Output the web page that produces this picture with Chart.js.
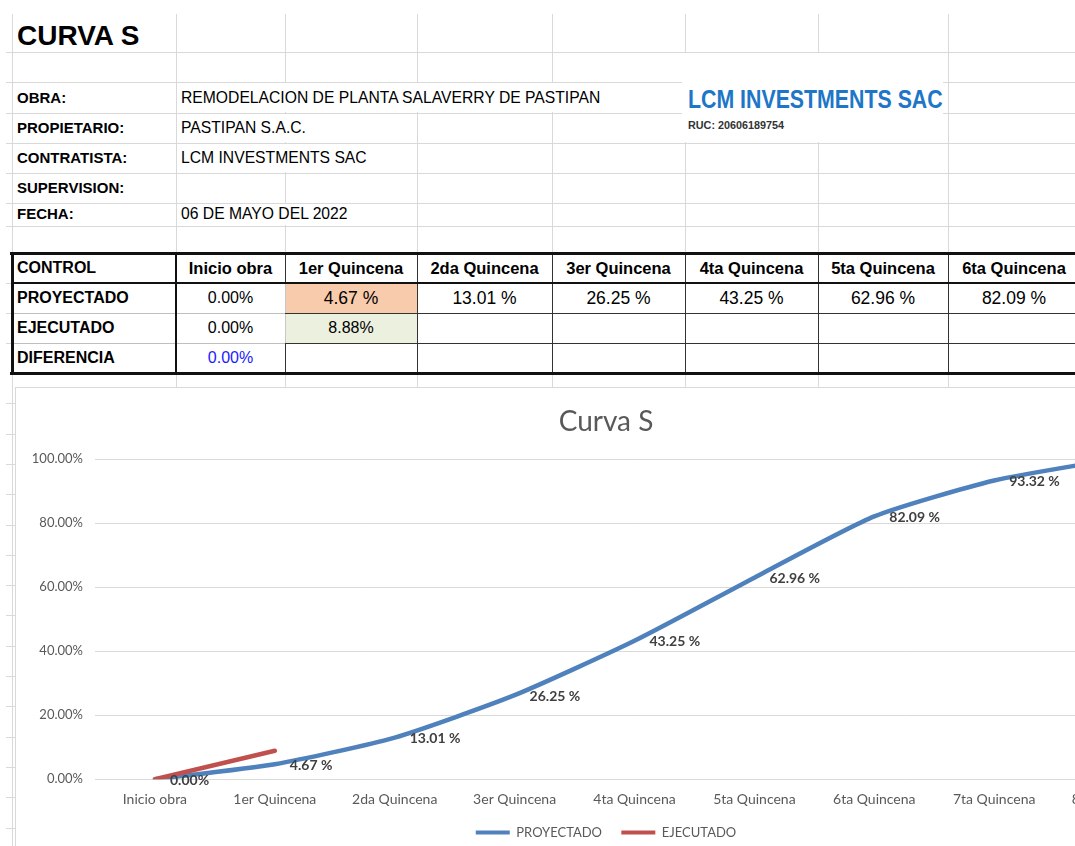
<!DOCTYPE html>
<html>
<head>
<meta charset="utf-8">
<title>Curva S</title>
<script src="https://cdn.jsdelivr.net/npm/chart.js@4.4.1/dist/chart.umd.min.js"></script>
<style>
html, body { margin: 0; padding: 0; width: 1075px; height: 846px; overflow: hidden; background: #fff; }
#sheet { position: absolute; left: 0; top: 0; width: 1075px; height: 846px; font-family: "Liberation Sans", Arial, sans-serif; color: #000; }
#sheet div { position: absolute; white-space: nowrap; }
#chartBox { position: absolute; left: 15px; top: 387px; width: 1180px; height: 470px; border: 1px solid #d9d9d9; background: #fff; }
#chartBox canvas { display: block; }
</style>
</head>
<body>
<div id="sheet"></div>
<div id="chartBox"><canvas id="curvaChart" width="1180" height="470"></canvas></div>
<script>
// --- datos de la curva ---
const categories = ['Inicio obra', '1er Quincena', '2da Quincena', '3er Quincena', '4ta Quincena',
                    '5ta Quincena', '6ta Quincena', '7ta Quincena', '8va Quincena'];
const proyectado = [0, 4.67, 13.01, 26.25, 43.25, 62.96, 82.09, 93.32, 100];
const ejecutado = [0, 8.88, null, null, null, null, null, null, null];
const diferencia = [0];
const yMin = 0, yMax = 100, yStep = 20;

// Text for the data sheet
const infoLabels = ['OBRA:', 'PROPIETARIO:', 'CONTRATISTA:', 'SUPERVISION:', 'FECHA:'];
const infoValues = ['REMODELACION DE PLANTA SALAVERRY DE PASTIPAN', 'PASTIPAN S.A.C.', 'LCM INVESTMENTS SAC', '', '06 DE MAYO DEL 2022'];

const fmtProy = (v, i) => i === 0 ? v.toFixed(2) + '%' : v.toFixed(2) + ' %';
const fmtPct = v => v.toFixed(2) + '%';

// --------------------------------------------------------------------------------
// SHEET (gridlines, header info, control table)
// --------------------------------------------------------------------------------
const sheet = document.getElementById('sheet');
const GRID = '#d9d9d9';

function box(x, y, w, h, bg) {
    const d = document.createElement('div');
    d.style.cssText = `left:${x}px;top:${y}px;width:${w}px;height:${h}px;background:${bg}`;
    sheet.appendChild(d);
}
function hl(x1, x2, y, c, t = 1) { box(x1, y - Math.floor(t / 2), x2 - x1, t, c); }
function vl(x, y1, y2, c, t = 1) { box(x - Math.floor(t / 2), y1, t, y2 - y1, c); }
function txt(s, x, y, w, align, css) {
    const d = document.createElement('div');
    d.textContent = s;
    d.style.cssText = `left:${x}px;top:${y - 15}px;height:30px;line-height:30px;width:${w}px;text-align:${align};${css}`;
    sheet.appendChild(d);
}

const cols = [12, 176, 285, 417, 552, 685, 818, 948, 1080];
const rowsTop = [52, 82, 113, 143, 173, 203, 226];

// plain gridlines
rowsTop.forEach(y => hl(6, 1075, y, GRID));
cols.forEach(x => vl(x, 14, 253, GRID));
cols.forEach(x => vl(x, 373, 388, GRID));
vl(12, 373, 846, GRID);
for (let k = 1; k <= 15; k++) hl(6, 15, Math.round(373 + 30.3 * k), GRID);
[283, 313, 343].forEach(y => hl(6, 12, y, GRID));

// overflow text and logo hide gridlines
box(177, 83, 428, 29, '#fff');
box(177, 114, 133, 28, '#fff');
box(177, 144, 193, 28, '#fff');
box(177, 204, 183, 21, '#fff');
box(682, 53, 261, 89, '#fff');

txt('CURVA S', 17, 36, 150, 'left', 'font-weight:bold;font-size:28px;');
infoLabels.forEach((s, i) => {
    const yc = [98, 128, 158, 188, 214][i];
    txt(s, 17, yc, 150, 'left', 'font-weight:bold;font-size:15px;');
    if (infoValues[i]) txt(infoValues[i], 181, yc, 200, 'left', 'font-size:15.7px;');
});

// logo
const logo = document.createElement('div');
logo.textContent = 'LCM INVESTMENTS SAC';
logo.style.cssText = 'left:688px;top:84px;line-height:30px;font-weight:bold;font-size:26px;color:#1D76C8;transform:scaleX(0.82);transform-origin:left center;';
sheet.appendChild(logo);
txt('RUC: 20606189754', 688, 125, 120, 'left', 'font-weight:bold;font-size:10.8px;color:#333;');

// control table
box(285, 283, 132, 30, '#F8CBAD');
box(285, 313, 132, 30, '#EBF1DE');
[417, 552, 685, 818, 948].forEach(x => vl(x, 253, 373, '#333'));
vl(285, 253, 283, '#333');
vl(285, 283, 343, '#c8c8c8');
vl(285, 343, 373, '#333');
[313, 343].forEach(y => { hl(12, 285, y, '#bfbfbf'); hl(285, 1075, y, '#333'); });
hl(10, 1075, 253, '#111', 3);
hl(12, 1075, 283, '#111', 2);
hl(10, 1075, 373, '#111', 3);
vl(12, 252, 375, '#111', 3);
vl(176, 253, 373, '#111', 2);

txt('CONTROL', 17, 268, 150, 'left', 'font-weight:bold;font-size:16px;');
txt('PROYECTADO', 17, 298, 150, 'left', 'font-weight:bold;font-size:16px;');
txt('EJECUTADO', 17, 328, 150, 'left', 'font-weight:bold;font-size:16px;');
txt('DIFERENCIA', 17, 358, 150, 'left', 'font-weight:bold;font-size:16px;');
for (let i = 0; i < 7; i++) {
    const x = cols[i + 1], w = cols[i + 2] - cols[i + 1];
    txt(categories[i], x, 268, w, 'center', 'font-weight:bold;font-size:16.5px;');
    txt(fmtProy(proyectado[i], i), x, 298, w, 'center', 'font-size:' + (i === 0 ? 16 : 17.5) + 'px;');
    if (i < 2 && ejecutado[i] !== null) txt(fmtPct(ejecutado[i]), x, 328, w, 'center', 'font-size:16px;');
    if (i < diferencia.length) txt(fmtPct(diferencia[i]), x, 358, w, 'center', 'font-size:16px;color:#2020ff;');
}

// --------------------------------------------------------------------------------
// CHART
// --------------------------------------------------------------------------------
const pointLabels = {
    id: 'pointLabels',
    afterDatasetsDraw(chart) {
        const ctx = chart.ctx;
        const meta = chart.getDatasetMeta(0);
        ctx.save();
        ctx.font = 'bold 14px Lato';
        ctx.fillStyle = '#404040';
        ctx.textAlign = 'left';
        ctx.textBaseline = 'middle';
        meta.data.forEach((pt, i) => {
            ctx.fillText(fmtProy(proyectado[i], i), pt.x + 15, pt.y + 1);
        });
        ctx.restore();
    }
};

const axisFont = { family: 'Lato', size: 14 };

new Chart(document.getElementById('curvaChart').getContext('2d'), {
    type: 'line',
    data: {
        labels: categories,
        datasets: [
            { label: 'PROYECTADO', data: proyectado, borderColor: '#4F81BD', backgroundColor: '#4F81BD',
              borderWidth: 4.5, pointRadius: 0, tension: 0.2, borderCapStyle: 'round', order: 1 },
            { label: 'EJECUTADO', data: ejecutado, borderColor: '#C0504D', backgroundColor: '#C0504D',
              borderWidth: 4.5, pointRadius: 0, tension: 0, borderCapStyle: 'round', order: 0 }
        ]
    },
    options: {
        responsive: false,
        animation: false,
        layout: { padding: { left: 0, right: 0, top: 0, bottom: 9 } },
        plugins: {
            title: { display: true, text: 'Curva S', color: '#595959',
                     font: { family: 'Lato', size: 28, weight: 'normal' }, padding: { top: 17, bottom: 20.5 } },
            legend: {
                position: 'bottom',
                labels: {
                    color: '#595959', font: { family: 'Lato', size: 13 }, boxWidth: 34, boxHeight: 4, padding: 6,
                    sort: (a, b) => a.datasetIndex - b.datasetIndex,
                    // trailing spaces keep the gap between the two legend entries
                    generateLabels: chart => Chart.defaults.plugins.legend.labels.generateLabels(chart)
                        .map(l => Object.assign(l, { lineWidth: 0, fillStyle: l.strokeStyle,
                                                     text: l.datasetIndex === 0 ? l.text + '    ' : l.text }))
                }
            },
            tooltip: { enabled: false }
        },
        scales: {
            x: {
                offset: true,
                grid: { display: false, drawTicks: false },
                border: { display: false },
                ticks: { color: '#595959', font: axisFont, padding: 12, maxRotation: 0, autoSkip: false }
            },
            y: {
                min: yMin, max: yMax,
                ticks: { stepSize: yStep, color: '#595959', font: { family: 'Lato', size: 13 }, padding: 12,
                         callback: v => v.toFixed(2) + '%' },
                grid: { color: '#d9d9d9', drawTicks: false },
                border: { display: false },
                afterFit(s) { s.width = 79; }
            },
            yR: {
                type: 'linear', position: 'right', min: yMin, max: yMax,
                grid: { display: false }, border: { display: false }, ticks: { display: false },
                afterFit(s) { s.width = 22; }
            }
        }
    },
    plugins: [pointLabels]
});
</script>
</body>
</html>
